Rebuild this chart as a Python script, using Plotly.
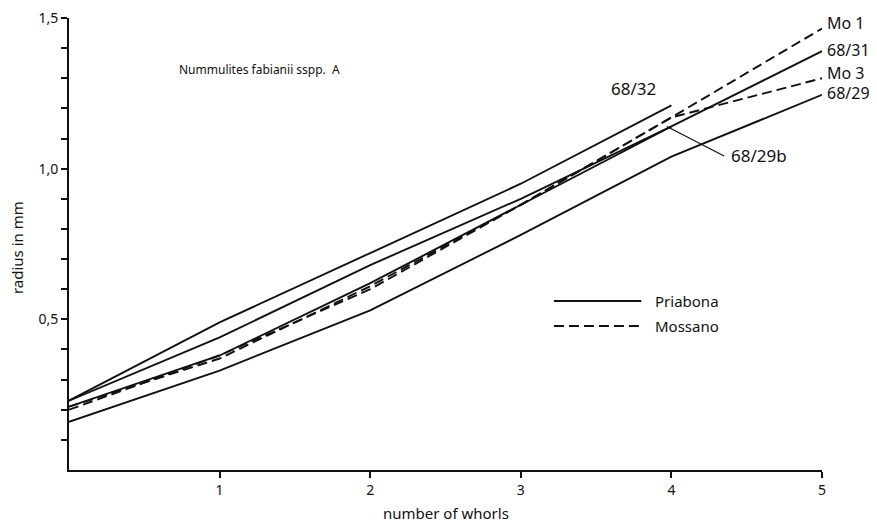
import plotly.graph_objects as go

whorls = [0, 1, 2, 3, 4, 5]

# Priabona (solid)
r_68_32 = [0.23, 0.49, 0.72, 0.95, 1.21]
r_68_31 = [0.23, 0.44, 0.68, 0.90, 1.14, 1.39]
r_68_29b = [0.21, 0.38, 0.62, 0.88, 1.14]
r_68_29 = [0.16, 0.33, 0.53, 0.78, 1.04, 1.245]
# Mossano (dashed)
r_mo1 = [0.21, 0.37, 0.61, 0.88, 1.17, 1.465]
r_mo3 = [0.20, 0.38, 0.60, 0.88, 1.17, 1.30]

y_tickvals = [round(0.1 * i, 1) for i in range(1, 16)]
y_ticklabels = {0.5: "0,5", 1.0: "1,0", 1.5: "1,5"}
x_tickvals = [1, 2, 3, 4, 5]
x_ticklabels = ["1", "2", "3", "4", "5"]

FONT = "Noto Sans"
INK = "#111111"

series = [
    ("68/32", r_68_32, "solid"),
    ("68/31", r_68_31, "solid"),
    ("68/29b", r_68_29b, "solid"),
    ("68/29", r_68_29, "solid"),
    ("Mo 1", r_mo1, "10px,5px"),
    ("Mo 3", r_mo3, "10px,5px"),
]

fig = go.Figure()
for name, vals, dash in series:
    fig.add_trace(go.Scatter(
        x=whorls[:len(vals)], y=vals, mode="lines", name=name,
        line=dict(color=INK, width=1.9, dash=dash), showlegend=False,
    ))

# End labels
end_labels = [
    ("Mo 1", 5, 1.484),
    ("68/31", 5, 1.394),
    ("Mo 3", 5, 1.318),
    ("68/29", 5, 1.252),
]
annotations = []
for txt, x, y in end_labels:
    annotations.append(dict(x=x, y=y, text=txt, showarrow=False, xanchor="left",
                            yanchor="middle", xshift=3,
                            font=dict(family=FONT, size=16, color=INK)))
annotations.append(dict(x=3.75, y=1.265, text="68/32", showarrow=False,
                        xanchor="center", yanchor="middle",
                        font=dict(family=FONT, size=17, color=INK)))
annotations.append(dict(x=4.38, y=1.045, text="68/29b", showarrow=False,
                        xanchor="left", yanchor="middle",
                        font=dict(family=FONT, size=17, color=INK)))
annotations.append(dict(x=0.72, y=1.328, text="Nummulites fabianii sspp.  A",
                        showarrow=False, xanchor="left", yanchor="middle",
                        font=dict(family=FONT, size=12, color=INK)))
# Legend text
annotations.append(dict(x=3.88, y=0.561, text="Priabona", showarrow=False,
                        xanchor="left", yanchor="middle",
                        font=dict(family=FONT, size=15, color=INK)))
annotations.append(dict(x=3.88, y=0.478, text="Mossano", showarrow=False,
                        xanchor="left", yanchor="middle",
                        font=dict(family=FONT, size=15, color=INK)))
# Axis titles
annotations.append(dict(x=0.5, y=-0.095, xref="paper", yref="paper",
                        text="number of whorls", showarrow=False,
                        xanchor="center", yanchor="middle",
                        font=dict(family=FONT, size=15, color=INK)))
annotations.append(dict(x=-0.069, y=0.491, xref="paper", yref="paper",
                        text="radius in mm", showarrow=False, textangle=-90,
                        xanchor="center", yanchor="middle",
                        font=dict(family=FONT, size=15, color=INK)))

shapes = [
    # pointer to 68/29b
    dict(type="line", x0=3.97, y0=1.14, x1=4.35, y1=1.042,
         line=dict(color=INK, width=1.3)),
    # legend samples
    dict(type="line", x0=3.22, y0=0.561, x1=3.80, y1=0.561,
         line=dict(color=INK, width=2)),
    dict(type="line", x0=3.22, y0=0.478, x1=3.80, y1=0.478,
         line=dict(color=INK, width=2, dash="10px,5px")),
]

fig.update_layout(
    width=877, height=524,
    margin=dict(l=61, r=63, t=10, b=62),
    paper_bgcolor="white", plot_bgcolor="white",
    font=dict(family=FONT, color=INK),
    annotations=annotations, shapes=shapes,
    showlegend=False,
)
fig.update_xaxes(
    range=[0, 5], showgrid=False, zeroline=False, automargin=False,
    showline=True, linecolor=INK, linewidth=2,
    ticks="outside", ticklen=6, tickwidth=1.5, tickcolor=INK,
    tickvals=x_tickvals, ticktext=x_ticklabels, ticklabeloverflow="allow",
    tickfont=dict(family=FONT, size=14, color=INK),
)
fig.update_yaxes(
    range=[0, 1.5], showgrid=False, zeroline=False, automargin=False,
    showline=True, linecolor=INK, linewidth=2,
    ticks="outside", ticklen=6, tickwidth=1.5, tickcolor=INK,
    tickvals=y_tickvals, ticklabeloverflow="allow",
    ticktext=[y_ticklabels.get(v, "") for v in y_tickvals],
    tickfont=dict(family=FONT, size=14, color=INK),
)

fig.write_html("out.html")
